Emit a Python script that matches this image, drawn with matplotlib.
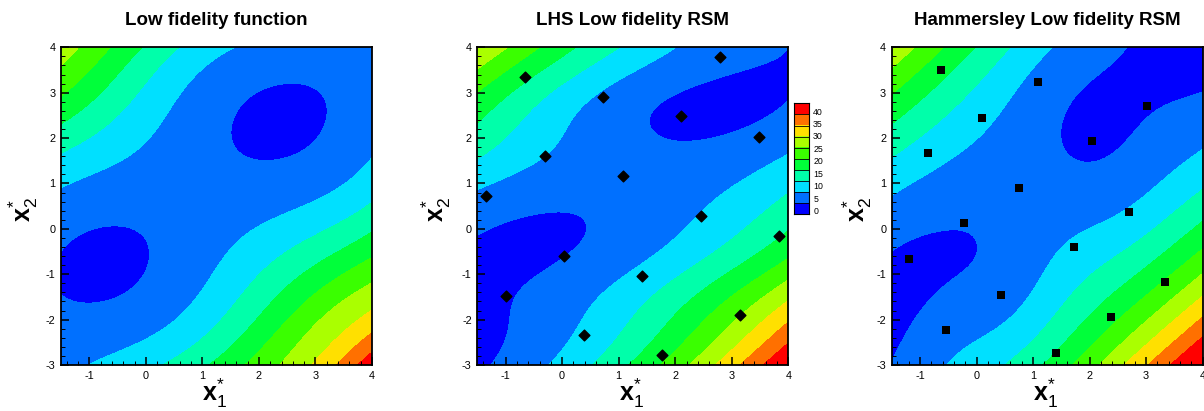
import numpy as np
import matplotlib.pyplot as plt
from matplotlib.colors import ListedColormap, LinearSegmentedColormap
from matplotlib.ticker import MultipleLocator

plt.rcParams['font.family'] = ['Liberation Sans', 'DejaVu Sans']
plt.rcParams['axes.unicode_minus'] = False
plt.rcParams['mathtext.fontset'] = 'custom'
plt.rcParams['mathtext.rm'] = 'Liberation Sans'
plt.rcParams['mathtext.bf'] = 'Liberation Sans:bold'

# contour levels shown in the legend
levels = [0, 5, 10, 15, 20, 25, 30, 35, 40]

# sample points (LHS and Hammersley)
lhs_x1 = [-0.65, 0.73, 2.79, 2.10, 3.48, -0.31, 1.07, -1.34, 2.45, 3.83, 0.04, 1.42, -1.00, 3.14, 0.38, 1.76]
lhs_x2 = [3.35, 2.91, 3.78, 2.48, 2.03, 1.61, 1.16, 0.72, 0.29, -0.16, -0.59, -1.03, -1.47, -1.90, -2.34, -2.78]
ham_x1 = [-0.62, 1.08, 3.02, 0.10, 2.05, -0.86, 0.76, 2.69, -0.22, -1.19, 1.73, 3.34, 0.43, 2.37, -0.54, 1.40]
ham_x2 = [3.50, 3.24, 2.71, 2.45, 1.93, 1.68, 0.90, 0.37, 0.12, -0.67, -0.40, -1.18, -1.45, -1.95, -2.23, -2.73]

titles = ['Low fidelity function', 'LHS Low fidelity RSM', 'Hammersley Low fidelity RSM']

x1_range = (-1.5, 4.0)
x2_range = (-3.0, 4.0)


def low_fi(x1, x2):
    # McCormick-like low fidelity function (valley along x1 = x2)
    d = x1 - x2
    s = x1 + x2
    return 0.95 * d ** 2 + 1.33 * np.sin(s) + 0.26 - 4.5 / (1 + np.exp(-3 * (np.abs(d) - 5.5)))


def trend(P):
    u = (P[:, 0] - 1.25) / 2.75
    v = (P[:, 1] - 0.5) / 3.5
    return np.stack([u ** i * v ** j for i in range(3) for j in range(3 - i)], axis=-1)


def corr(A, B, th):
    return np.exp(-(th[0] * (A[:, None, 0] - B[None, :, 0]) ** 2
                    + th[1] * (A[:, None, 1] - B[None, :, 1]) ** 2))


def kriging_rsm(px, py, th, gx, gy):
    # kriging with quadratic trend + gaussian correlation
    P = np.column_stack([px, py])
    y = low_fi(P[:, 0], P[:, 1])
    F = trend(P)
    Ri = np.linalg.inv(corr(P, P, th) + 1e-8 * np.eye(len(y)))
    beta = np.linalg.solve(F.T @ Ri @ F, F.T @ Ri @ y)
    r = y - F @ beta
    G = np.column_stack([gx.ravel(), gy.ravel()])
    return (trend(G) @ beta + corr(G, P, th) @ Ri @ r).reshape(gx.shape)


gx, gy = np.meshgrid(np.linspace(*x1_range, 300), np.linspace(*x2_range, 300))
fields = [low_fi(gx, gy),
          kriging_rsm(lhs_x1, lhs_x2, (0.1, 0.8), gx, gy),
          kriging_rsm(ham_x1, ham_x2, (1.0, 0.3), gx, gy)]

# tecplot-like "small rainbow", 10 bands
rainbow = LinearSegmentedColormap.from_list('small_rainbow', ['#0000ff', '#00ffff', '#00ff00', '#ffff00', '#ff0000'])
band_colors = rainbow(np.linspace(0, 1, 10))
cmap = ListedColormap(band_colors[1:9])
cmap.set_under(band_colors[0])
cmap.set_over(band_colors[9])

W, H = 1204, 411
fig = plt.figure(figsize=(W / 100, H / 100), dpi=100)
lefts = [61, 477.3, 891.7]
ylab_x = [-0.068, -0.077, -0.058]

for i, (left, z, title) in enumerate(zip(lefts, fields, titles)):
    ax = fig.add_axes([left / W, (H - 365) / H, 311 / W, 317.7 / H])
    ax.contourf(gx, gy, z, levels=levels, cmap=cmap, extend='both')
    if i == 1:
        ax.scatter(lhs_x1, lhs_x2, s=30, marker='D', c='black', linewidths=1, edgecolors='black', zorder=3)
    elif i == 2:
        ax.scatter(ham_x1, ham_x2, s=32, marker='s', c='black', linewidths=0, zorder=3)
    ax.set_xlim(*x1_range)
    ax.set_ylim(*x2_range)
    ax.xaxis.set_major_locator(MultipleLocator(1))
    ax.yaxis.set_major_locator(MultipleLocator(1))
    ax.xaxis.set_minor_locator(MultipleLocator(0.2))
    ax.yaxis.set_minor_locator(MultipleLocator(0.2))
    ax.tick_params(which='both', direction='in', top=False, right=False, labelsize=7.8, color='black')
    ax.tick_params(which='major', length=5.5, width=1.1, pad=4)
    ax.tick_params(which='minor', length=3, width=0.7)
    for sp in ax.spines.values():
        sp.set_linewidth(1.3)
    ax.set_title(title, fontsize=13.5, fontweight='bold', pad=16.4)
    ax.set_xlabel(r'$\mathbf{x}_{1}^{*}$', fontsize=18)
    ax.set_ylabel(r'$\mathbf{x}_{2}^{*}$', fontsize=18)
    ax.xaxis.set_label_coords(0.495, -0.037)
    ax.yaxis.set_label_coords(ylab_x[i], 0.49)

# legend box between the 2nd and 3rd panels
cax = fig.add_axes([794 / W, (H - 214.3) / H, 15 / W, 111 / H])
cax.imshow(np.arange(10).reshape(-1, 1), cmap=ListedColormap(band_colors), origin='lower',
           extent=(0, 1, 0, 10), aspect='auto', interpolation='nearest')
cax.hlines(np.arange(1, 10), 0, 1, colors='black', linewidth=0.6)
cax.set_xticks([])
cax.yaxis.tick_right()
cax.set_yticks(np.linspace(0.32, 9.3, len(levels)))
cax.set_yticklabels([str(v) for v in levels])
cax.tick_params(axis='y', length=0, pad=3, labelsize=6.3)
for sp in cax.spines.values():
    sp.set_linewidth(0.8)

fig.savefig('out.png', dpi=100)
